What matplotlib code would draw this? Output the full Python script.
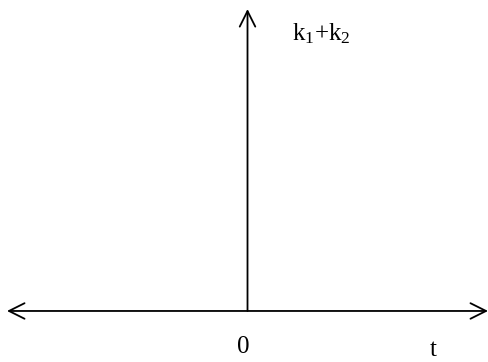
import matplotlib
matplotlib.use('Agg')
import matplotlib.pyplot as plt

# impulse at t = 0 with strength k1+k2
impulse_t = [0.0]
impulse_h = [1.0]
impulse_label = ['k$_1$+k$_2$']
t_range = [-1.0, 1.0]
origin_label = '0'
axis_label = 't'

plt.rcParams['font.family'] = ['Liberation Serif', 'DejaVu Serif']
plt.rcParams['mathtext.fontset'] = 'custom'
plt.rcParams['mathtext.rm'] = 'Liberation Serif'
plt.rcParams['mathtext.it'] = 'Liberation Serif'

fig = plt.figure(figsize=(4.89, 3.62), dpi=100)
ax = fig.add_axes([0, 0, 1, 1])
ax.set_xlim(-1.029, 1.004)
ax.set_ylim(-0.169, 1.03)
ax.axis('off')

arrow = dict(arrowstyle='<->', lw=1.3, color='black',
             mutation_scale=28, shrinkA=0, shrinkB=0)
ax.annotate('', xy=(t_range[0], 0), xytext=(t_range[1], 0),
            arrowprops=arrow)

for t, h, lab in zip(impulse_t, impulse_h, impulse_label):
    ax.annotate('', xy=(t, h), xytext=(t, 0),
                arrowprops=dict(arrowstyle='->', lw=1.3, color='black',
                                mutation_scale=28, shrinkA=0, shrinkB=0))
    ax.text(t + 0.185, h * 0.897, lab, fontsize=18, ha='left', va='baseline')

ax.text(-0.019, -0.139, origin_label, fontsize=18, ha='center', va='baseline')
ax.text(0.771, -0.149, axis_label, fontsize=18, ha='center', va='baseline')

plt.savefig('out.png', dpi=100)
